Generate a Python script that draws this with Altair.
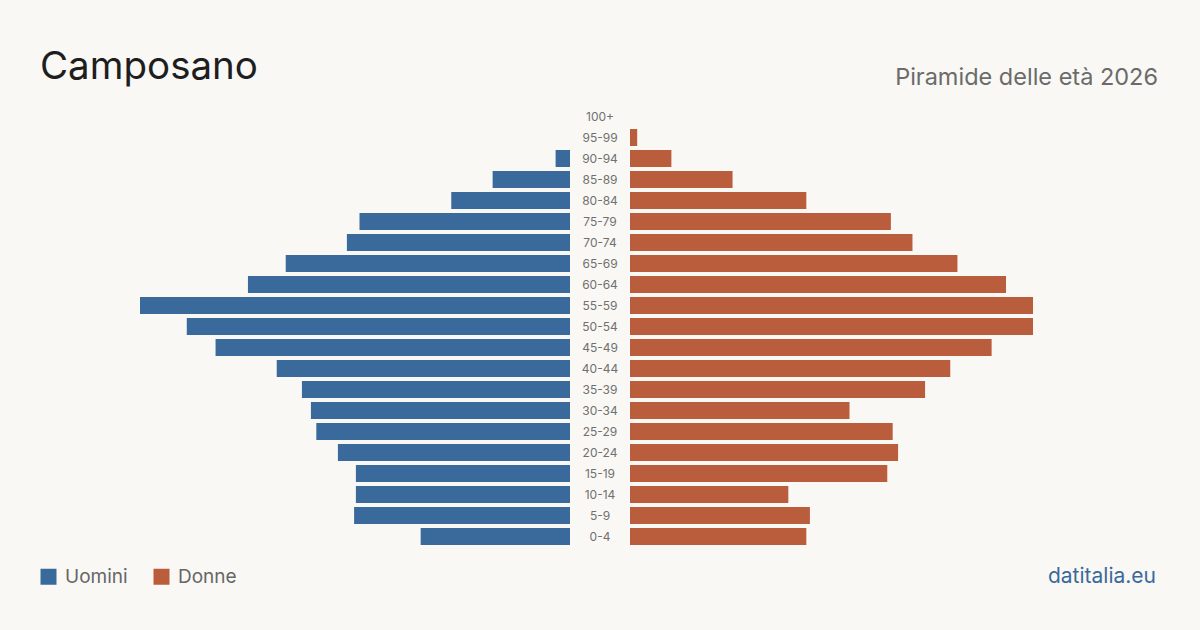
import altair as alt
import pandas as pd

# Age classes, top of the pyramid first
ages = ["100+", "95-99", "90-94", "85-89", "80-84", "75-79", "70-74", "65-69",
        "60-64", "55-59", "50-54", "45-49", "40-44", "35-39", "30-34", "25-29",
        "20-24", "15-19", "10-14", "5-9", "0-4"]

# Residents per age class
uomini = [0, 0, 8, 43, 66, 117, 124, 158, 179, 239, 213, 197, 163, 149, 144,
          141, 129, 119, 119, 120, 83]
donne = [0, 4, 23, 57, 98, 145, 157, 182, 209, 224, 224, 201, 178, 164, 122,
         146, 149, 143, 88, 100, 98]

series = ["Uomini", "Donne"]
colors = ["#3a6a9b", "#b95d3c"]

title = "Camposano"
subtitle = "Piramide delle età 2026"
source = "datitalia.eu"

FONT = "Inter"
BG = "#f9f8f4"

rows = []
for a, m, f in zip(ages, uomini, donne):
    rows.append({"age": a, "sex": "Uomini", "value": m})
    rows.append({"age": a, "sex": "Donne", "value": f})
df = pd.DataFrame(rows)

vmax = max(max(uomini), max(donne))

y_enc = alt.Y("age:N", sort=ages, axis=None,
              scale=alt.Scale(range=[106, 547], paddingInner=0.19, paddingOuter=0.095))
color_enc = alt.Color(
    "sex:N",
    scale=alt.Scale(domain=series, range=colors),
    legend=alt.Legend(
        title=None, orient="none", legendX=39, legendY=567, direction="horizontal",
        symbolType="square", symbolSize=256, symbolStrokeWidth=0, symbolOpacity=1,
        labelFont=FONT, labelFontSize=19, labelColor="#666666", labelOffset=7,
        columnPadding=24,
    ),
)

base = alt.Chart(df)

men = base.transform_filter(alt.datum.sex == "Uomini").mark_bar().encode(
    x=alt.X("value:Q", axis=None,
            scale=alt.Scale(domain=[0, vmax], range=[570, 140], nice=False)),
    y=y_enc,
    color=color_enc,
)

women = base.transform_filter(alt.datum.sex == "Donne").mark_bar().encode(
    x=alt.X("value:Q", axis=None,
            scale=alt.Scale(domain=[0, vmax], range=[630, 1060], nice=False)),
    y=y_enc,
    color=color_enc,
)

labels = alt.Chart(pd.DataFrame({"age": ages})).mark_text(
    font=FONT, fontSize=12, color="#707070", align="center", baseline="middle"
).encode(
    x=alt.value(600),
    y=alt.Y("age:N", sort=ages, axis=None),
    text="age:N",
)

one = pd.DataFrame({"t": [0]})

title_mark = alt.Chart(one).mark_text(
    font=FONT, fontSize=38.5, color="#1e1e1e", align="left", baseline="alphabetic", text=title
).encode(x=alt.value(40), y=alt.value(79))

subtitle_mark = alt.Chart(one).mark_text(
    font=FONT, fontSize=23.5, color="#6b6b6b", align="right", baseline="alphabetic", text=subtitle
).encode(x=alt.value(1158), y=alt.value(85))

source_mark = alt.Chart(one).mark_text(
    font=FONT, fontSize=21, color="#3a6a9b", align="right", baseline="alphabetic", text=source
).encode(x=alt.value(1156), y=alt.value(583))

chart = alt.layer(men, women, labels, title_mark, subtitle_mark, source_mark).resolve_scale(
    x="independent"
).properties(
    width=1200, height=630, padding=0,
    autosize=alt.AutoSizeParams(type="none"),
    background=BG,
).configure_view(stroke=None)

chart.save("out.html", embed_options={"renderer": "svg", "actions": False})
